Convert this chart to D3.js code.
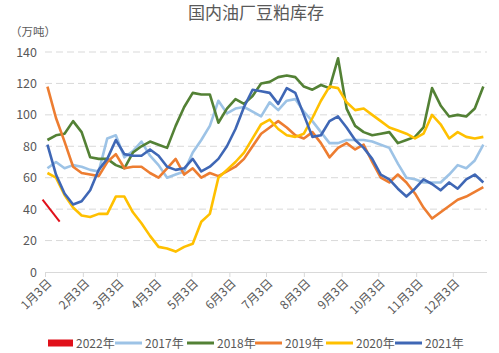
<!DOCTYPE html>
<html><head><meta charset="utf-8">
<script src="https://cdn.jsdelivr.net/npm/d3@7/dist/d3.min.js"></script>
<style>
html,body{margin:0;padding:0;background:#fff;}
text{font-family:"Noto Sans CJK SC","Noto Sans",sans-serif;fill:#595959;}
</style></head>
<body>
<svg id="chart" width="499" height="353"></svg>
<script>
// ---- data ----
const title = "国内油厂豆粕库存";
const unitLabel = "（万吨）";
const monthLabels = ["1月3日","2月3日","3月3日","4月3日","5月3日","6月3日","7月3日","8月3日","9月3日","10月3日","11月3日","12月3日"];
const yTicks = [0,20,40,60,80,100,120,140];
const seriesNames = ["2022年","2017年","2018年","2019年","2020年","2021年"];

const s2022 = [46,39,32];
const s2017 = [66,70,66,68,67,65,64,85,87,73,77,83,74,68,60,62,64,76,84,93,109,101,104,105,102,99,108,103,109,110,102,96,89,82,82,84,84,84,83,81,79,69,60,59,57,57,57,62,68,66,71,81];
const s2018 = [84,87,88,96,89,73,72,72,68,66,76,80,83,81,79,93,105,114,113,113,95,104,110,107,112,120,121,124,125,124,118,116,119,117,136,104,93,89,87,88,89,82,84,86,92,117,106,99,100,99,104,118];
const s2019 = [118,98,83,67,63,62,61,70,75,66,67,67,63,60,66,72,62,66,60,63,61,64,67,72,80,88,92,96,92,87,85,89,82,73,79,82,78,81,70,60,57,62,57,50,41,34,38,42,46,48,51,54];
const s2020 = [63,60,49,41,36,35,37,37,48,48,38,31,23,16,15,13,16,18,32,37,60,65,70,76,85,94,97,91,87,86,88,98,109,118,117,108,103,104,100,96,92,90,88,85,88,100,94,85,89,86,85,86];
const s2021 = [81,62,50,43,45,52,65,72,84,75,74,74,78,74,67,65,66,72,64,67,72,80,91,105,116,115,114,107,117,114,100,86,87,96,99,92,84,79,72,62,59,53,48,53,59,56,52,57,53,59,62,57];

const seriesValues = [s2022, s2017, s2018, s2019, s2020, s2021];
const seriesStart = [new Date(2021,0,1), new Date(2021,0,5), new Date(2021,0,5), new Date(2021,0,5), new Date(2021,0,5), new Date(2021,0,5)];
const colors = ["#E0101A","#9DC3E6","#538135","#ED7D31","#FFC000","#3F67B5"];

// ---- chart ----
const svg = d3.select("#chart");
const x = d3.scaleTime().domain([new Date(2021,0,3), new Date(2021,11,31)]).range([45,487]);
const y = d3.scaleLinear().domain([0,140]).range([272,52]);

svg.append("text").attr("x",256).attr("y",19).attr("text-anchor","middle")
  .style("font-size","17px").text(title);
svg.append("text").attr("x",10).attr("y",36).style("font-size","11.5px").text(unitLabel);

// gridlines
svg.append("g").selectAll("line").data(yTicks.filter(d=>d>0)).join("line")
  .attr("x1",45).attr("x2",487).attr("y1",d=>y(d)).attr("y2",d=>y(d))
  .attr("stroke","#D9D9D9").attr("stroke-width",1).attr("stroke-dasharray","7,4");

// y axis labels
const yAxis = d3.axisLeft(y).tickValues(yTicks).tickSize(0).tickPadding(0);
const gy = svg.append("g").attr("transform","translate(37,0)").call(yAxis);
gy.select(".domain").remove();
gy.selectAll("text").style("font-size","12.5px").attr("fill","#595959");

// x axis
const monthDates = monthLabels.map((d,i)=>new Date(2021,i,3));
const xAxis = d3.axisBottom(x).tickValues(monthDates).tickSize(5).tickFormat((d,i)=>monthLabels[i]);
const gx = svg.append("g").attr("transform","translate(0,272)").call(xAxis);
gx.select(".domain").attr("stroke","#D9D9D9").attr("d","M45,0.5H487");
gx.selectAll(".tick line").attr("stroke","#D9D9D9");
gx.selectAll(".tick text").style("font-size","12px").attr("fill","#595959")
  .attr("text-anchor","end").attr("dy","0.35em")
  .attr("transform","translate(4,9) rotate(-45)").attr("y",0).attr("x",0);

// lines
const line = d3.line().x(d=>x(d.date)).y(d=>y(d.v));
seriesValues.forEach((vals,k)=>{
  const pts = vals.map((v,i)=>({date:d3.timeDay.offset(seriesStart[k], 7*i), v}));
  svg.append("path").datum(pts).attr("d",line).attr("fill","none")
    .attr("stroke",colors[k]).attr("stroke-width",k===0?2:2.6).attr("stroke-linejoin","round");
});

// legend
const legendX = [48,115,187,255,326,395];
const lg = svg.append("g");
seriesNames.forEach((n,k)=>{
  if(k===0){
    lg.append("rect").attr("x",legendX[k]).attr("y",339.5).attr("width",25).attr("height",7).attr("fill",colors[k]);
  } else {
    lg.append("line").attr("x1",legendX[k]).attr("x2",legendX[k]+27).attr("y1",343).attr("y2",343)
      .attr("stroke",colors[k]).attr("stroke-width",3);
  }
  lg.append("text").attr("x",legendX[k]+(k===0?28:30)).attr("y",347.5).style("font-size","12px").text(n);
});
</script>
</body></html>
